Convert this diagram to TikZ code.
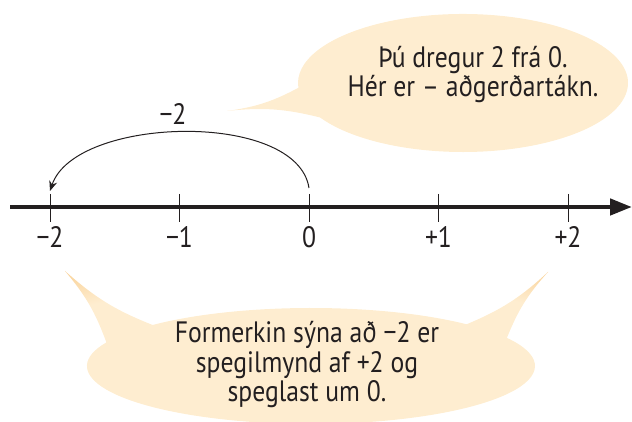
\documentclass[tikz,border=0pt]{standalone}
\usepackage{fontspec}
\setmainfont{PT Sans}[FakeStretch=0.87]
\usetikzlibrary{arrows.meta}
\definecolor{ink}{RGB}{35,31,32}
\definecolor{bubin}{RGB}{254,237,208}
\definecolor{bubout}{RGB}{249,208,148}
\pgfdeclareradialshading{bubble}{\pgfpoint{0bp}{0bp}}{color(0bp)=(bubin); color(18bp)=(bubin); color(25bp)=(bubout); color(50bp)=(bubout)}
\tikzset{
  lbl/.style={text=ink, inner sep=0pt, anchor=base, font=\fontsize{29.5}{31}\selectfont},
  tickmark/.style={draw=ink, line width=1pt},
  axisline/.style={draw=ink, line width=4.5pt, -{Triangle[length=22pt,width=16pt]}},
  jump/.style={draw=ink, line width=1pt, -{Stealth[length=10pt,width=8pt]}},
}
\begin{document}
\begin{tikzpicture}[x=1pt,y=1pt]
\useasboundingbox (0,0) rectangle (632,422);
% top bubble
\begin{scope}[shift={(463,339)}]
  \clip (210:165 and 69) arc[start angle=210,end angle=544,x radius=165,y radius=69]
        to[bend left=10] (-236,-28) to[bend left=10] (210:165 and 69) -- cycle;
  \shade[shading=bubble] (-330,-138) rectangle (330,138);
\end{scope}
% bottom bubble
\begin{scope}[shift={(311,56)}]
  \clip (46:224 and 58) arc[start angle=46,end angle=135,x radius=224,y radius=58]
        to[bend left=10] (-246,95) to[bend left=10] (156:224 and 58)
        arc[start angle=156,end angle=389,x radius=224,y radius=58]
        to[bend left=10] (237,94) to[bend left=10] (46:224 and 58) -- cycle;
  \shade[shading=bubble] (-448,-116) rectangle (448,116);
\end{scope}
% axis
\coordinate (astart) at (10,215);
\coordinate (aend) at (632,215);
\draw[axisline] (astart) -- (aend);
\foreach \i/\t in {-2/{−2},-1/{−1},0/{0},1/{+1},2/{+2}}{
  \coordinate (ttop\i) at ({309+129.5*\i},228);
  \coordinate (tbot\i) at ({309+129.5*\i},200);
  \draw[tickmark] (ttop\i) -- (tbot\i);
  \node[lbl] (lab\i) at ({309+129.5*\i},174) {\t};
}
% jump
\coordinate (jfrom) at (309,234);
\coordinate (jto) at (50,231);
\draw[jump] (jfrom) .. controls (297,312) and (75,306) .. (jto);
\node[lbl] (jlab) at (173,297) {−2};
% texts
\node[lbl] (top1) at (473,354) {Þú dregur 2 frá 0.};
\node[lbl] (top2) at (473,325) {Hér er – aðgerðartákn.};
\node[lbl] (bot1) at (307,79) {Formerkin sýna að −2 er};
\node[lbl] (bot2) at (307,49) {spegilmynd af +2 og};
\node[lbl] (bot3) at (307,20) {speglast um 0.};
\end{tikzpicture}
\end{document}
